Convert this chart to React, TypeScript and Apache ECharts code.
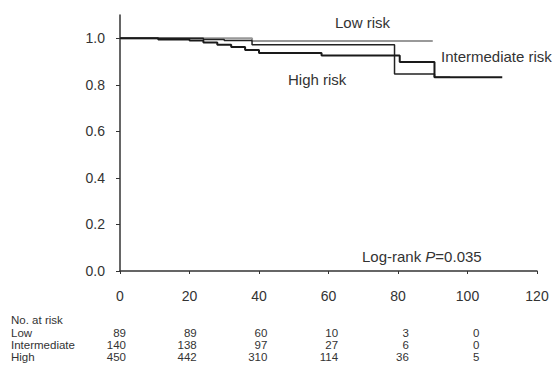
import React, { useEffect, useRef } from "react";
import * as echarts from "echarts";

const lowT = [0, 38, 90];
const lowS = [1.0, 0.988, 0.988];
const intT = [0, 24, 30, 38, 79, 90.5, 95];
const intS = [1.0, 0.995, 0.99, 0.972, 0.847, 0.832, 0.832];
const highT = [0, 11, 20, 24, 28, 32, 36, 40, 58, 80.5, 90.5, 110];
const highS = [1.0, 0.995, 0.99, 0.982, 0.972, 0.962, 0.95, 0.937, 0.926, 0.898, 0.832, 0.832];

const yTicks = [0, 0.2, 0.4, 0.6, 0.8, 1.0];
const xTicks = [0, 20, 40, 60, 80, 100, 120];
const riskTimes = [0, 20, 40, 60, 80, 100];
const riskGroups = ["Low", "Intermediate", "High"];
const riskLow = [89, 89, 60, 10, 3, 0];
const riskInt = [140, 138, 97, 27, 6, 0];
const riskHigh = [450, 442, 310, 114, 36, 5];

const FONT = "Liberation Sans, Arial, Helvetica, sans-serif";
const TXT = "#333";

export default function App() {
  const ref = useRef<HTMLDivElement>(null);
  useEffect(() => {
    document.body.style.margin = "0";
    const chart = echarts.init(ref.current!, null, { renderer: "svg" });
    const gl = 120, gr = 20, gt = 15, gb = 103;
    const W = 557;
    const xPix = (t: number) => gl + (t / 120) * (W - gl - gr);
    const toPairs = (ts: number[], ss: number[]) => ts.map((t, i) => [t, ss[i]]);
    const riskRows = [riskLow, riskInt, riskHigh];
    const rowY = [333, 345, 357];
    const TF = `11.5px ${FONT}`;
    const base = { font: TF, fill: TXT, verticalAlign: "middle", lineHeight: 11 };
    const graphics: any[] = [
      { type: "text", x: 11, y: 320, style: { ...base, text: "No. at risk" } },
    ];
    riskGroups.forEach((g, r) => {
      graphics.push({ type: "text", x: 11, y: rowY[r], style: { ...base, text: g } });
      riskRows[r].forEach((v, i) => {
        graphics.push({
          type: "text",
          x: xPix(riskTimes[i]) + 6 + i * 1.2,
          y: rowY[r],
          style: { ...base, text: String(v), align: "right" },
        });
      });
    });
    const LF = `15px ${FONT}`;
    graphics.push(
      { type: "text", x: 335, y: 22, style: { text: "Low risk", font: LF, fill: TXT, verticalAlign: "middle" } },
      { type: "text", x: 441, y: 56, style: { text: "Intermediate risk", font: LF, fill: TXT, verticalAlign: "middle" } },
      { type: "text", x: 288, y: 79, style: { text: "High risk", font: LF, fill: TXT, verticalAlign: "middle" } },
      {
        type: "text",
        x: 362,
        y: 256,
        style: {
          text: "{n|Log-rank }{i|P}{n|=0.035}",
          verticalAlign: "middle",
          rich: {
            n: { font: LF, fill: TXT },
            i: { font: `italic ${LF}`, fill: TXT },
          },
        },
      }
    );
    chart.setOption({
      animation: false,
      grid: { left: gl, right: gr, top: gt, bottom: gb },
      xAxis: {
        type: "value",
        min: 0,
        max: 120,
        interval: 20,
        splitLine: { show: false },
        axisLine: { lineStyle: { color: "#333", width: 1.5 } },
        axisTick: { length: 3, lineStyle: { color: "#333" }, customValues: xTicks },
        axisLabel: { margin: 18, fontSize: 14, color: TXT, fontFamily: FONT, customValues: xTicks },
      },
      yAxis: {
        type: "value",
        min: 0,
        max: 1.1,
        splitLine: { show: false },
        axisLine: { show: true, lineStyle: { color: "#333", width: 1.5 } },
        axisTick: { show: true, length: 4, lineStyle: { color: "#333" }, customValues: yTicks },
        axisLabel: {
          margin: 15,
          fontSize: 14,
          color: TXT,
          fontFamily: FONT,
          customValues: yTicks,
          formatter: (v: number) => v.toFixed(1),
        },
      },
      series: [
        {
          name: "Low risk",
          type: "line",
          step: "end",
          data: toPairs(lowT, lowS),
          symbol: "none",
          lineStyle: { color: "#999", width: 2 },
          z: 1,
        },
        {
          name: "Intermediate risk",
          type: "line",
          step: "end",
          data: toPairs(intT, intS),
          symbol: "none",
          lineStyle: { color: "#222", width: 1.5 },
          z: 2,
        },
        {
          name: "High risk",
          type: "line",
          step: "end",
          data: toPairs(highT, highS),
          symbol: "none",
          lineStyle: { color: "#1a1a1a", width: 2 },
          z: 3,
        },
      ],
      graphic: graphics,
    });
    return () => chart.dispose();
  }, []);
  return <div ref={ref} style={{ width: 557, height: 374 }} />;
}
